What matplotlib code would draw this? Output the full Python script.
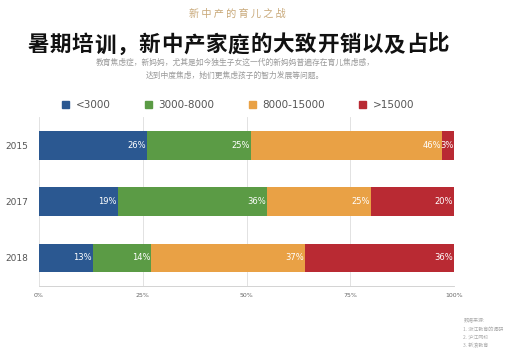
import numpy as np
import matplotlib.pyplot as plt
from matplotlib.patches import Patch

plt.rcParams['font.family'] = ['Noto Sans CJK SC', 'DejaVu Sans']

years = ["2015", "2017", "2018"]
groups = ["<3000", "3000-8000", "8000-15000", ">15000"]
shares = {
    "<3000": [26, 19, 13],
    "3000-8000": [25, 36, 14],
    "8000-15000": [46, 25, 37],
    ">15000": [3, 20, 36],
}
ticks = [0, 25, 50, 75, 100]
colors = ["#2b5891", "#5b9b45", "#e9a145", "#b92a33"]
title = "暑期培训，新中产家庭的大致开销以及占比"

fig = plt.figure(figsize=(5.12, 3.59), dpi=100)
ax = fig.add_axes([0.076, 0.203, 0.811, 0.471])

ypos = np.arange(len(years))
left = np.zeros(len(years))
for g, c in zip(groups, colors):
    vals = np.array(shares[g])
    ax.barh(ypos, vals, left=left, height=0.51, color=c, edgecolor="none", zorder=3)
    for y, l, v in zip(ypos, left, vals):
        ax.text(l + v - 0.2, y, f"{v}%", ha="right", va="center",
                color="white", fontsize=6, family="DejaVu Sans", zorder=4)
    left += vals

ax.set_xlim(0, 100)
ax.set_ylim(2.5, -0.5)
ax.set_yticks(ypos)
ax.set_yticklabels(years, fontsize=6.5, color="#555555", family="DejaVu Sans")
ax.set_xticks(ticks)
ax.set_xticklabels([f"{t}%" for t in ticks], fontsize=4.5, color="#666666", family="DejaVu Sans")
ax.tick_params(length=0, pad=5)
ax.tick_params(axis="y", pad=8)
ax.grid(axis="x", color="#dddddd", lw=0.6, zorder=0)
for s in ["top", "right", "left"]:
    ax.spines[s].set_visible(False)
ax.spines["bottom"].set_color("#cccccc")
ax.spines["bottom"].set_linewidth(0.6)

handles = [Patch(color=c, label=g) for g, c in zip(groups, colors)]
fig.legend(handles=handles, loc="center", bbox_to_anchor=(0.465, 0.708), ncol=4,
           frameon=False, handlelength=0.7, handleheight=0.7,
           handletextpad=0.6, columnspacing=3.3, labelcolor="#555555",
           prop={"family": "DejaVu Sans", "size": 7.5})

fig.text(0.463, 0.962, "新 中 产 的 育 儿 之 战", ha="center", va="center",
         fontsize=7.3, color="#c8a878")

# title drawn char by char to get the wide letter spacing
n = len(title)
x0, x1 = 38 / 512, 439 / 512
for i, ch in enumerate(title):
    fig.text(x0 + (x1 - x0) * i / (n - 1), 0.875, ch, ha="center", va="center",
             fontsize=15.5, fontweight="bold", color="#111111")

fig.text(0.459, 0.826, "教育焦虑症，新妈妈，尤其是如今独生子女这一代的新妈妈普遍存在育儿焦虑感，",
         ha="center", va="center", fontsize=5.6, color="#999999")
fig.text(0.459, 0.79, "达到中度焦虑，她们更焦虑孩子的智力发展等问题。",
         ha="center", va="center", fontsize=5.6, color="#999999")

src = ["数据来源:", "1. 浙江教育的调研", "2. 沪江网校", "3. 新浪教育"]
for i, s in enumerate(src):
    fig.text(0.905, 0.108 - i * 0.024, s, ha="left", va="center", fontsize=3.6, color="#aaaaaa")

fig.savefig("out.png", dpi=100, facecolor="white")
